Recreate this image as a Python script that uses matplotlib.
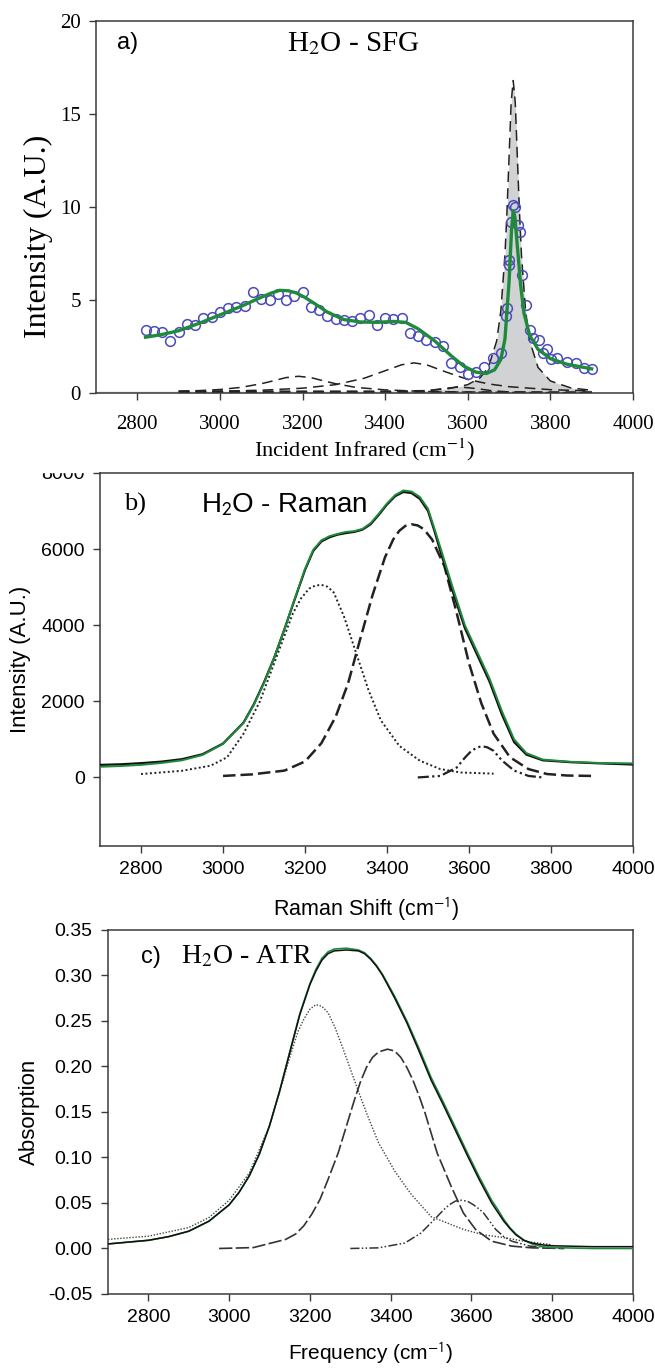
import matplotlib
matplotlib.use("Agg")
import matplotlib.pyplot as plt
from matplotlib.patches import Rectangle
from matplotlib.ticker import FormatStrFormatter

plt.rcParams["axes.unicode_minus"] = False

SERIF = "Liberation Serif"
SANS = "Liberation Sans"
GREEN = "#1f8a3b"
CIRCLE = "#4b4bbd"
FILL = "#d0d2d4"

# ---------------- a) H2O - SFG ----------------
sfg_x = [2820, 2840, 2860, 2880, 2900, 2920, 2940, 2960, 2980, 3000, 3020, 3040,
         3060, 3080, 3100, 3120, 3140, 3160, 3180, 3200, 3220, 3240, 3260, 3280,
         3300, 3320, 3340, 3360, 3380, 3400, 3420, 3440, 3460, 3480, 3500, 3520,
         3540, 3560, 3580, 3600, 3620, 3640, 3660, 3680, 3692, 3696, 3699, 3700,
         3705, 3709, 3715, 3721, 3727, 3732, 3741, 3751, 3758, 3773, 3783, 3793,
         3801, 3816, 3840, 3863, 3881, 3900]
sfg_y = [3.39, 3.33, 3.26, 2.82, 3.26, 3.71, 3.65, 4.01, 4.10, 4.37, 4.55, 4.60,
         4.67, 5.44, 5.08, 4.99, 5.35, 4.99, 5.22, 5.44, 4.63, 4.49, 4.14, 3.96,
         3.92, 3.87, 4.01, 4.19, 3.65, 4.01, 3.96, 4.01, 3.24, 3.07, 2.85, 2.76,
         2.55, 1.63, 1.41, 1.02, 1.15, 1.38, 1.86, 2.17, 4.14, 4.55, 7.15, 6.88,
         9.21, 10.1, 10.0, 9.03, 8.67, 6.34, 4.73, 3.39, 2.94, 2.85, 2.13, 2.35,
         1.81, 1.86, 1.68, 1.60, 1.33, 1.29]

sfg_fit_x = [2820, 2860, 2900, 2950, 3000, 3050, 3100, 3125, 3145, 3165, 3185,
             3205, 3230, 3260, 3300, 3340, 3380, 3420, 3450, 3480, 3520, 3560,
             3590, 3620, 3645, 3665, 3680, 3690, 3700, 3706, 3710, 3714, 3720,
             3728, 3736, 3750, 3770, 3800, 3840, 3900]
sfg_fit_y = [3.00, 3.15, 3.35, 3.75, 4.20, 4.65, 5.15, 5.38, 5.52, 5.50, 5.38,
             5.15, 4.80, 4.35, 3.95, 3.82, 3.80, 3.85, 3.80, 3.45, 2.80, 2.00,
             1.45, 1.12, 1.05, 1.25, 1.80, 2.90, 6.00, 8.80, 9.80, 9.50, 7.90,
             5.80, 4.30, 3.10, 2.35, 1.85, 1.55, 1.30]

# fitted resonances
sfg_r1_x = [2900, 2950, 3000, 3050, 3100, 3130, 3160, 3190, 3220, 3250, 3280,
            3330, 3400, 3500, 3600, 3700, 3800, 3900]
sfg_r1_y = [0.10, 0.13, 0.19, 0.30, 0.50, 0.66, 0.83, 0.90, 0.83, 0.66, 0.50,
            0.30, 0.17, 0.08, 0.05, 0.03, 0.02, 0.02]
sfg_r2_x = [2900, 3000, 3100, 3200, 3280, 3350, 3400, 3440, 3470, 3500, 3550,
            3600, 3650, 3700, 3800, 3900]
sfg_r2_y = [0.07, 0.10, 0.15, 0.26, 0.45, 0.80, 1.20, 1.52, 1.62, 1.52, 1.11,
            0.73, 0.49, 0.34, 0.18, 0.11]
sfg_r3_x = [2900, 3300, 3450, 3500, 3540, 3580, 3620, 3660, 3700, 3800, 3900]
sfg_r3_y = [0.01, 0.02, 0.06, 0.12, 0.24, 0.33, 0.24, 0.12, 0.06, 0.02, 0.01]
sfg_bg_x = [2900, 3900]
sfg_bg_y = [0.06, 0.06]
sfg_free_x = [2700, 2900, 3200, 3400, 3500, 3550, 3600, 3630, 3650, 3670, 3680,
              3690, 3695, 3700, 3705, 3710, 3715, 3720, 3725, 3730, 3740, 3750,
              3770, 3800, 3850, 3900]
sfg_free_y = [0.10, 0.10, 0.10, 0.10, 0.13, 0.22, 0.45, 0.82, 1.38, 2.80, 4.40,
              7.40, 9.80, 12.7, 15.6, 16.8, 15.6, 12.7, 9.80, 7.40, 4.40, 2.80,
              1.38, 0.65, 0.27, 0.15]

# ---------------- b) H2O - Raman ----------------
raman_x = [2700, 2750, 2800, 2850, 2900, 2950, 3000, 3050, 3075, 3100, 3125,
           3150, 3175, 3200, 3220, 3240, 3260, 3280, 3300, 3320, 3340, 3360,
           3380, 3400, 3420, 3440, 3460, 3480, 3500, 3515, 3530, 3560, 3590,
           3620, 3650, 3680, 3710, 3740, 3780, 3850, 3920, 4000]
raman_meas = [280, 300, 330, 380, 450, 590, 880, 1430, 1900, 2480, 3150,
              3900, 4700, 5480, 5980, 6230, 6340, 6400, 6450, 6470, 6530, 6680,
              6930, 7200, 7420, 7540, 7510, 7370, 7060, 6560, 6050, 5000, 4000,
              3300, 2600, 1750, 1000, 640, 470, 410, 380, 370]
raman_fit = [330, 345, 375, 415, 480, 610, 890, 1440, 1920, 2500, 3150,
             3900, 4680, 5450, 5950, 6200, 6310, 6380, 6420, 6450, 6510, 6650,
             6900, 7170, 7390, 7500, 7470, 7320, 7000, 6500, 5950, 4900, 3920,
             3220, 2520, 1660, 930, 600, 450, 400, 370, 340]

raman_p1_x = [2800, 2900, 2970, 3010, 3050, 3090, 3130, 3170, 3190, 3210, 3225,
              3240, 3255, 3270, 3295, 3325, 3355, 3385, 3430, 3480, 3530, 3580,
              3660]
raman_p1_y = [90, 175, 310, 530, 1150, 2000, 3150, 4300, 4700, 4960, 5040,
              5060, 5010, 4860, 4230, 3260, 2290, 1500, 830, 440, 220, 130, 100]
raman_p2_x = [3000, 3070, 3150, 3200, 3240, 3275, 3305, 3335, 3365, 3395, 3415,
              3430, 3445, 3460, 3475, 3490, 3510, 3540, 3570, 3600, 3630, 3660,
              3700, 3745, 3790, 3840, 3900]
raman_p2_y = [40, 80, 180, 420, 900, 1600, 2470, 3650, 4800, 5780, 6250,
              6480, 6610, 6650, 6620, 6520, 6250, 5550, 4320, 3000, 1950, 1150,
              530, 220, 90, 50, 40]
raman_p3_x = [3475, 3530, 3570, 3590, 3605, 3620, 3632, 3645, 3660, 3680, 3710,
              3745, 3780]
raman_p3_y = [0, 40, 260, 520, 690, 790, 820, 790, 700, 450, 180, 40, 0]

# ---------------- c) H2O - ATR ----------------
atr_x = [2700, 2750, 2800, 2850, 2900, 2950, 3000, 3025, 3050, 3075, 3100, 3125,
         3150, 3175, 3200, 3215, 3230, 3245, 3260, 3290, 3320, 3335, 3350, 3365,
         3380, 3410, 3440, 3470, 3500, 3530, 3560, 3590, 3620, 3650, 3665, 3680,
         3695, 3710, 3730, 3750, 3775, 3800, 3900, 4000]
atr_fit = [0.005, 0.007, 0.009, 0.013, 0.019, 0.030, 0.048, 0.062, 0.080, 0.104,
           0.135, 0.173, 0.215, 0.257, 0.290, 0.305, 0.317, 0.324, 0.327, 0.328,
           0.327, 0.324, 0.318, 0.310, 0.300, 0.275, 0.248, 0.217, 0.185, 0.158,
           0.130, 0.102, 0.075, 0.050, 0.040, 0.030, 0.022, 0.015, 0.009, 0.006,
           0.004, 0.003, 0.002, 0.002]
atr_meas = [0.005, 0.007, 0.009, 0.013, 0.019, 0.030, 0.048, 0.062, 0.080, 0.104,
            0.135, 0.173, 0.216, 0.258, 0.291, 0.307, 0.319, 0.326, 0.329, 0.330,
            0.328, 0.325, 0.319, 0.311, 0.301, 0.277, 0.250, 0.220, 0.188, 0.161,
            0.133, 0.105, 0.078, 0.053, 0.043, 0.032, 0.023, 0.016, 0.009, 0.005,
            0.002, 0.001, 0.000, 0.000]

atr_p1_x = [2700, 2800, 2900, 2950, 3000, 3050, 3100, 3125, 3150, 3170, 3185,
            3200, 3215, 3230, 3245, 3262, 3280, 3310, 3340, 3370, 3410, 3450,
            3500, 3580, 3630, 3680, 3730, 3800]
atr_p1_y = [0.010, 0.0135, 0.023, 0.034, 0.053, 0.083, 0.135, 0.172, 0.210,
            0.238, 0.252, 0.263, 0.268, 0.266, 0.259, 0.243, 0.222, 0.185, 0.149,
            0.116, 0.085, 0.060, 0.035, 0.021, 0.015, 0.012, 0.008, 0.004]
atr_p2_x = [2975, 3060, 3140, 3165, 3185, 3205, 3225, 3245, 3270, 3290, 3310,
            3325, 3340, 3355, 3370, 3392, 3410, 3425, 3440, 3455, 3470, 3485,
            3515, 3550, 3580, 3610, 3650, 3700, 3750, 3830]
atr_p2_y = [0.0, 0.001, 0.010, 0.016, 0.025, 0.038, 0.054, 0.076, 0.105, 0.134,
            0.163, 0.183, 0.199, 0.210, 0.216, 0.219, 0.217, 0.210, 0.199, 0.185,
            0.168, 0.149, 0.105, 0.068, 0.039, 0.021, 0.008, 0.0026, 0.0007, 0.0]
atr_p3_x = [3300, 3370, 3435, 3475, 3515, 3530, 3545, 3560, 3575, 3590, 3605,
            3620, 3630, 3645, 3660, 3680, 3700, 3745, 3830]
atr_p3_y = [0.0, 0.0007, 0.006, 0.017, 0.035, 0.042, 0.048, 0.052, 0.053, 0.052,
            0.048, 0.043, 0.039, 0.030, 0.021, 0.013, 0.008, 0.0026, 0.0]

xticks = [2800, 3000, 3200, 3400, 3600, 3800, 4000]

fig = plt.figure(figsize=(6.55, 13.68), dpi=100)
ax_a = fig.add_axes([0.1466, 0.7127, 0.8198, 0.2719])
ax_b = fig.add_axes([0.1527, 0.3816, 0.8137, 0.2727])
ax_c = fig.add_axes([0.1649, 0.0541, 0.8015, 0.2661])


def style_axes(ax, family, tick_size, xpad=6):
    for sp in ax.spines.values():
        sp.set_color("#3a3a3a")
        sp.set_linewidth(1.1)
    ax.tick_params(direction="out", length=5, width=1.0, color="#3a3a3a",
                   top=False, right=False, labelsize=tick_size, pad=6)
    ax.tick_params(axis="x", pad=xpad)
    for lab in ax.get_xticklabels() + ax.get_yticklabels():
        lab.set_family(family)
    ax.set_xlim(2700, 4000)
    ax.set_xticks(xticks)


# a) SFG panel
dash_a = (0, (7, 4))
ax_a.fill_between(sfg_free_x, 0, sfg_free_y, color=FILL, lw=0, zorder=1)
ax_a.plot(sfg_free_x[1:], sfg_free_y[1:], color="#222222", lw=1.1, ls=dash_a, zorder=2)
for cx, cy in [(sfg_r1_x, sfg_r1_y), (sfg_r2_x, sfg_r2_y), (sfg_r3_x, sfg_r3_y),
               (sfg_bg_x, sfg_bg_y)]:
    ax_a.plot(cx, cy, color="#222222", lw=1.1, ls=dash_a, zorder=2)
ax_a.plot(sfg_x, sfg_y, ls="none", marker="o", ms=7, mfc="none",
          mec=CIRCLE, mew=1.1, zorder=3)
ax_a.plot(sfg_fit_x, sfg_fit_y, color=GREEN, lw=2.4, zorder=4)
ax_a.set_ylim(0, 20)
ax_a.set_yticks([0, 5, 10, 15, 20])
style_axes(ax_a, SERIF, 15, xpad=11)
ax_a.set_xlabel("Incident Infrared (cm$^{-1}$)", family=SERIF, fontsize=16.2,
                math_fontfamily="stix")
ax_a.set_ylabel("Intensity (A.U.)", family=SERIF, fontsize=23)
ax_a.xaxis.set_label_coords(0.5, -0.117)
ax_a.yaxis.set_label_coords(-0.108, 0.42)
ax_a.yaxis.label.set_va("center")
ax_a.text(0.039, 0.94, "a)", transform=ax_a.transAxes, family=SANS,
          fontsize=17, va="center", ha="left")
ax_a.text(0.48, 0.94, "H$_2$O - SFG", transform=ax_a.transAxes, family=SERIF,
          fontsize=21, va="center", ha="center", math_fontfamily="stix")

# b) Raman panel
ax_b.plot(raman_x, raman_fit, color="#111111", lw=1.6, zorder=3)
ax_b.plot(raman_x, raman_meas, color=GREEN, lw=1.4, zorder=4)
ax_b.plot(raman_p1_x, raman_p1_y, color="#222222", lw=1.4, ls=(0, (1, 1.3)), zorder=2)
ax_b.plot(raman_p2_x, raman_p2_y, color="#222222", lw=1.8, ls=(0, (5, 2)), zorder=2)
ax_b.plot(raman_p3_x, raman_p3_y, color="#222222", lw=1.6,
          ls=(0, (5, 1.5, 1, 1.5, 1, 1.5)), zorder=2)
ax_b.set_ylim(-1800, 8000)
ax_b.set_yticks([0, 2000, 4000, 6000, 8000])
style_axes(ax_b, SANS, 14)
ax_b.set_xlabel("Raman Shift (cm$^{-1}$)", family=SANS, fontsize=15.5,
                math_fontfamily="stixsans")
ax_b.set_ylabel("Intensity (A.U.)", family=SANS, fontsize=16)
ax_b.xaxis.set_label_coords(0.5, -0.132)
ax_b.yaxis.set_label_coords(-0.150, 0.5)
ax_b.yaxis.label.set_va("center")
ax_b.text(0.045, 0.915, "b)", transform=ax_b.transAxes, family=SERIF,
          fontsize=19, va="center", ha="left")
ax_b.text(0.19, 0.915, "H$_2$O - Raman", transform=ax_b.transAxes, family=SANS,
          fontsize=20, va="center", ha="left", math_fontfamily="stixsans")

# c) ATR panel
ax_c.plot(atr_p1_x, atr_p1_y, color="#444444", lw=1.0, ls=(0, (1, 1.2)), zorder=2)
ax_c.plot(atr_p2_x, atr_p2_y, color="#333333", lw=1.2, ls=(0, (8, 2)), zorder=2)
ax_c.plot(atr_p3_x, atr_p3_y, color="#333333", lw=1.1,
          ls=(0, (6, 1.5, 1, 1.5, 1, 1.5)), zorder=2)
ax_c.plot(atr_x, atr_meas, color=GREEN, lw=1.2, zorder=3)
ax_c.plot(atr_x, atr_fit, color="#111111", lw=1.1, zorder=4)
ax_c.set_ylim(-0.05, 0.35)
ax_c.set_yticks([-0.05, 0, 0.05, 0.10, 0.15, 0.20, 0.25, 0.30, 0.35])
ax_c.yaxis.set_major_formatter(FormatStrFormatter("%.2f"))
style_axes(ax_c, SANS, 14)
ax_c.set_xlabel("Frequency (cm$^{-1}$)", family=SANS, fontsize=15,
                math_fontfamily="stixsans")
ax_c.set_ylabel("Absorption", family=SANS, fontsize=16)
ax_c.xaxis.set_label_coords(0.5, -0.127)
ax_c.yaxis.set_label_coords(-0.149, 0.5)
ax_c.yaxis.label.set_va("center")
ax_c.text(0.063, 0.926, "c)", transform=ax_c.transAxes, family=SANS,
          fontsize=17, va="center", ha="left")
ax_c.text(0.139, 0.926, "H$_2$O - ATR", transform=ax_c.transAxes, family=SERIF,
          fontsize=20, va="center", ha="left", math_fontfamily="stix")

# top of the 8000 label is hidden under the panel above
fig.patches.append(Rectangle((0.0, 1 - 472 / 1368), 0.14, 17 / 1368,
                             transform=fig.transFigure, color="white", zorder=10))

fig.savefig("out.png", dpi=100, facecolor="white")
